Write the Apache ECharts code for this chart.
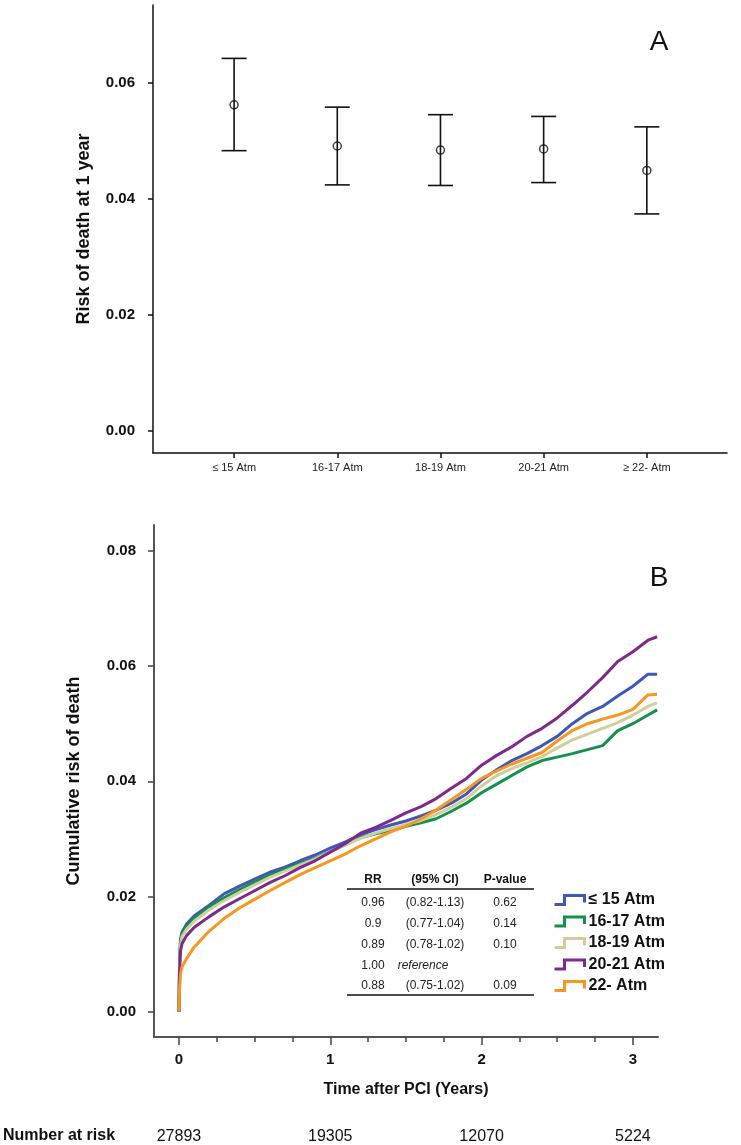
<!DOCTYPE html>
<html>
<head>
<meta charset="utf-8">
<script src="https://cdn.jsdelivr.net/npm/echarts@6/dist/echarts.min.js"></script>
<style>
html,body{margin:0;padding:0;background:#fff;}
#c{width:741px;height:1145px;}
</style>
</head>
<body>
<div id="c"></div>
<script>
// ---------- Panel A data ----------
const categoriesA = ['≤ 15 Atm', '16-17 Atm', '18-19 Atm', '20-21 Atm', '≥ 22- Atm'];
const riskA  = [0.0562, 0.0491, 0.0484, 0.0486, 0.0449];
const lowerA = [0.0483, 0.0424, 0.0423, 0.0428, 0.0374];
const upperA = [0.0642, 0.0558, 0.0545, 0.0542, 0.0524];
const yTicksA = [0, 0.02, 0.04, 0.06];

// ---------- Panel B data ----------
const timesB = [0, 0.004, 0.01, 0.02, 0.05, 0.1, 0.2, 0.3, 0.4, 0.5, 0.6, 0.7, 0.8, 0.9, 1.0, 1.1, 1.2, 1.3, 1.4, 1.5, 1.6, 1.7, 1.8, 1.9, 2.0, 2.1, 2.2, 2.3, 2.4, 2.5, 2.6, 2.7, 2.8, 2.9, 3.0, 3.1, 3.16];
const seriesNamesB = ['≤ 15 Atm', '16-17 Atm', '18-19 Atm', '20-21 Atm', '22- Atm'];
const atm15 = [0, 0.009, 0.0125, 0.0138, 0.0152, 0.0166, 0.0185, 0.0205, 0.0218, 0.0230, 0.0242, 0.0251, 0.0262, 0.0272, 0.0284, 0.0295, 0.0307, 0.0316, 0.0324, 0.0331, 0.0340, 0.0350, 0.0362, 0.0378, 0.0402, 0.0420, 0.0436, 0.0448, 0.0462, 0.0478, 0.0500, 0.0518, 0.0530, 0.0548, 0.0565, 0.0586, 0.0586];
const atm1617 = [0, 0.0085, 0.012, 0.0135, 0.0148, 0.0162, 0.0182, 0.0198, 0.0212, 0.0225, 0.0237, 0.0248, 0.0257, 0.0266, 0.0278, 0.0290, 0.0302, 0.0309, 0.0315, 0.0322, 0.0328, 0.0335, 0.0348, 0.0362, 0.0380, 0.0395, 0.0410, 0.0425, 0.0436, 0.0442, 0.0448, 0.0455, 0.0462, 0.0488, 0.0500, 0.0515, 0.0524];
const atm1819 = [0, 0.008, 0.0115, 0.013, 0.0143, 0.0157, 0.0177, 0.0193, 0.0207, 0.0220, 0.0233, 0.0244, 0.0255, 0.0265, 0.0278, 0.0290, 0.0301, 0.0310, 0.0318, 0.0325, 0.0332, 0.0342, 0.0355, 0.0370, 0.0392, 0.0410, 0.0422, 0.0432, 0.0443, 0.0458, 0.0472, 0.0482, 0.0492, 0.0502, 0.0515, 0.0530, 0.0536];
const atm2021 = [0, 0.007, 0.0105, 0.0118, 0.0132, 0.0146, 0.0165, 0.0182, 0.0196, 0.0210, 0.0224, 0.0236, 0.0250, 0.0262, 0.0277, 0.0292, 0.0310, 0.0320, 0.0332, 0.0345, 0.0356, 0.0370, 0.0388, 0.0405, 0.0428, 0.0445, 0.0460, 0.0478, 0.0492, 0.0510, 0.0532, 0.0555, 0.0580, 0.0608, 0.0625, 0.0645, 0.0651];
const atm22 = [0, 0.004, 0.0065, 0.0078, 0.0092, 0.0112, 0.0140, 0.0162, 0.0180, 0.0195, 0.0210, 0.0224, 0.0238, 0.0250, 0.0262, 0.0274, 0.0288, 0.0300, 0.0312, 0.0322, 0.0335, 0.0350, 0.0368, 0.0386, 0.0405, 0.0418, 0.0430, 0.0440, 0.0450, 0.0470, 0.0488, 0.0500, 0.0508, 0.0515, 0.0525, 0.0550, 0.0551];
const yTicksB = [0, 0.02, 0.04, 0.06, 0.08];
const xTicksB = [0, 1, 2, 3];
const xMinorTicksB = [0.25, 0.5, 0.75, 1.25, 1.5, 1.75, 2.25, 2.5, 2.75];
const atRiskTimes = [0, 1, 2, 3];
const atRiskCounts = ['27893', '19305', '12070', '5224'];

// ---------- Table data ----------
const tableHeader = ['RR', '(95% CI)', 'P-value'];
const rrVals = ['0.96', '0.9', '0.89', '1.00', '0.88'];
const ciVals = ['(0.82-1.13)', '(0.77-1.04)', '(0.78-1.02)', 'reference', '(0.75-1.02)'];
const pVals  = ['0.62', '0.14', '0.10', '', '0.09'];

const colorsB = ['#3d58b8', '#14914a', '#d2cd9c', '#7d2a8c', '#f8961f'];
const FONT = '"Liberation Sans", Arial, sans-serif';

const chart = echarts.init(document.getElementById('c'), null, {renderer: 'canvas'});

const bSeriesData = [atm15, atm1617, atm1819, atm2021, atm22];
const bSeries = bSeriesData.map((arr, i) => ({
  type: 'line',
  name: seriesNamesB[i],
  xAxisIndex: 1, yAxisIndex: 1,
  showSymbol: false,
  symbol: 'none',
  data: timesB.map((t, k) => [t, arr[k]]),
  lineStyle: {color: colorsB[i], width: 3},
  itemStyle: {color: colorsB[i]},
  z: 3 + i
}));

// table graphics
const tableGraphics = [];
const colX = [373, 435, 505];
tableHeader.forEach((h, j) => {
  tableGraphics.push({type: 'text', x: colX[j], y: 880, style: {text: h, font: 'bold 12px ' + FONT, fill: '#111', textAlign: 'center', textVerticalAlign: 'middle'}});
});
tableGraphics.push({type: 'line', shape: {x1: 347, y1: 889, x2: 534, y2: 889}, style: {stroke: '#111', lineWidth: 1.5}});
tableGraphics.push({type: 'line', shape: {x1: 347, y1: 995, x2: 534, y2: 995}, style: {stroke: '#111', lineWidth: 1.5}});
const rowY = [903, 924, 945, 966, 986];
rrVals.forEach((v, r) => {
  tableGraphics.push({type: 'text', x: colX[0], y: rowY[r], style: {text: v, font: '12px ' + FONT, fill: '#222', textAlign: 'center', textVerticalAlign: 'middle'}});
  const isRef = ciVals[r] === 'reference';
  tableGraphics.push({type: 'text', x: isRef ? 423 : colX[1], y: rowY[r], style: {text: ciVals[r], font: (isRef ? 'italic ' : '') + '12px ' + FONT, fill: '#222', textAlign: 'center', textVerticalAlign: 'middle'}});
  tableGraphics.push({type: 'text', x: colX[2], y: rowY[r], style: {text: pVals[r], font: '12px ' + FONT, fill: '#222', textAlign: 'center', textVerticalAlign: 'middle'}});
});

const legendIcon = 'path://M0,10 L10,10 L10,1 L30,1 L30,8';

const option = {
  animation: false,
  backgroundColor: '#fff',
  textStyle: {fontFamily: FONT},
  grid: [
    {left: 153, top: 5, right: 14, bottom: 692, containLabel: false},
    {left: 154, top: 525, right: 83, bottom: 108, containLabel: false}
  ],
  legend: {
    data: seriesNamesB.map((n, i) => ({
      name: n,
      icon: legendIcon,
      itemStyle: {color: 'rgba(0,0,0,0)', borderColor: colorsB[i], borderWidth: 3, opacity: 1}
    })),
    orient: 'vertical',
    left: 548, top: 886,
    itemWidth: 32, itemHeight: 9, itemGap: 3.5,
    textStyle: {fontFamily: FONT, fontSize: 16, fontWeight: 'bold', color: '#111', lineHeight: 18, padding: [0, 0, 0, -2]},
    selectedMode: false
  },
  xAxis: [
    {
      gridIndex: 0, type: 'value', min: 0.214, max: 5.777, position: 'bottom',
      axisLine: {show: true, onZero: false, lineStyle: {color: '#111', width: 1.5}},
      axisTick: {show: true, customValues: [1, 2, 3, 4, 5], length: 5, lineStyle: {color: '#111', width: 1.5}},
      axisLabel: {show: true, customValues: [1, 2, 3, 4, 5], formatter: v => categoriesA[Math.round(v) - 1] || '', fontSize: 11, color: '#222', margin: 9, fontFamily: FONT},
      splitLine: {show: false}
    },
    {
      gridIndex: 1, type: 'value', min: -0.165, max: 3.166, position: 'bottom',
      name: 'Time after PCI (Years)', nameLocation: 'middle', nameGap: 45,
      nameTextStyle: {fontSize: 16, fontWeight: 'bold', color: '#111', fontFamily: FONT},
      axisLine: {show: true, onZero: false, lineStyle: {color: '#555', width: 2}},
      axisTick: {show: true, customValues: xTicksB, length: 8, lineStyle: {color: '#444', width: 1.5}},
      axisLabel: {show: true, customValues: xTicksB, formatter: v => String(v), fontSize: 15, fontWeight: 'bold', color: '#111', margin: 15, fontFamily: FONT},
      splitLine: {show: false}
    },
    {
      gridIndex: 1, type: 'value', min: -0.165, max: 3.166, position: 'bottom', offset: 0,
      axisLine: {show: false, onZero: false},
      axisTick: {show: true, customValues: xMinorTicksB, length: 5, lineStyle: {color: '#444', width: 1.5}},
      axisLabel: {show: false},
      splitLine: {show: false}
    },
    {
      gridIndex: 1, type: 'value', min: -0.165, max: 3.166, position: 'bottom', offset: 92,
      axisLine: {show: false, onZero: false},
      axisTick: {show: false},
      axisLabel: {show: true, customValues: atRiskTimes, formatter: v => atRiskCounts[atRiskTimes.indexOf(Math.round(v))] || '', fontSize: 16, color: '#111', margin: 0, fontFamily: FONT},
      splitLine: {show: false}
    }
  ],
  yAxis: [
    {
      gridIndex: 0, type: 'value', min: -0.0038, max: 0.0734, position: 'left',
      name: 'Risk of death at 1 year', nameLocation: 'middle', nameGap: 60, nameRotate: 90,
      nameTextStyle: {fontSize: 18, fontWeight: 'bold', color: '#111', fontFamily: FONT},
      axisLine: {show: true, onZero: false, lineStyle: {color: '#111', width: 1.5}},
      axisTick: {show: true, customValues: yTicksA, length: 5, lineStyle: {color: '#111', width: 1.5}},
      axisLabel: {show: true, customValues: yTicksA, formatter: v => v.toFixed(2), fontSize: 15, fontWeight: 'bold', color: '#111', margin: 18, fontFamily: FONT},
      splitLine: {show: false}
    },
    {
      gridIndex: 1, type: 'value', min: -0.0044, max: 0.0845, position: 'left',
      name: 'Cumulative risk of death', nameLocation: 'middle', nameGap: 71, nameRotate: 90,
      nameTextStyle: {fontSize: 18, fontWeight: 'bold', color: '#111', fontFamily: FONT},
      axisLine: {show: true, onZero: false, lineStyle: {color: '#555', width: 2}},
      axisTick: {show: true, customValues: yTicksB, length: 6, lineStyle: {color: '#444', width: 1.5}},
      axisLabel: {show: true, customValues: yTicksB, formatter: v => v.toFixed(2), fontSize: 15, fontWeight: 'bold', color: '#111', margin: 18, fontFamily: FONT},
      splitLine: {show: false}
    }
  ],
  graphic: [
    {type: 'text', x: 659, y: 42, style: {text: 'A', font: '28px ' + FONT, fill: '#111', textAlign: 'center', textVerticalAlign: 'middle'}},
    {type: 'text', x: 659, y: 578, style: {text: 'B', font: '28px ' + FONT, fill: '#111', textAlign: 'center', textVerticalAlign: 'middle'}},
    {type: 'text', x: 3, y: 1136, style: {text: 'Number at risk', font: 'bold 16px ' + FONT, fill: '#111', textAlign: 'left', textVerticalAlign: 'middle'}}
  ].concat(tableGraphics),
  series: [
    {
      type: 'custom',
      xAxisIndex: 0, yAxisIndex: 0,
      data: categoriesA.map((c, i) => [i + 1, lowerA[i], upperA[i]]),
      renderItem: function (params, api) {
        const x = api.value(0);
        const lo = api.coord([x, api.value(1)]);
        const hi = api.coord([x, api.value(2)]);
        const hw = 12.5;
        const st = {stroke: '#111', lineWidth: 1.6};
        return {
          type: 'group',
          children: [
            {type: 'line', shape: {x1: lo[0], y1: lo[1], x2: hi[0], y2: hi[1]}, style: st},
            {type: 'line', shape: {x1: lo[0] - hw, y1: lo[1], x2: lo[0] + hw, y2: lo[1]}, style: st},
            {type: 'line', shape: {x1: hi[0] - hw, y1: hi[1], x2: hi[0] + hw, y2: hi[1]}, style: st}
          ]
        };
      },
      z: 2
    },
    {
      type: 'scatter',
      xAxisIndex: 0, yAxisIndex: 0,
      data: riskA.map((v, i) => [i + 1, v]),
      symbol: 'circle', symbolSize: 8,
      itemStyle: {color: 'rgba(0,0,0,0)', borderColor: '#111', borderWidth: 1.5},
      z: 3
    }
  ].concat(bSeries)
};

chart.setOption(option);
</script>
</body>
</html>
